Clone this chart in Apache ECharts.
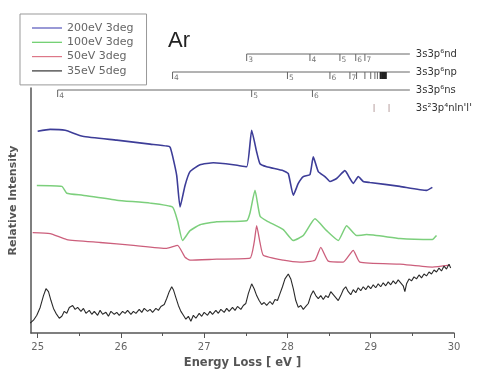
<!DOCTYPE html>
<html><head><meta charset="utf-8">
<script src="https://cdn.jsdelivr.net/npm/echarts@6/dist/echarts.min.js"></script>
<style>html,body{margin:0;padding:0;background:#fff}#c{width:483px;height:374px}</style>
</head><body><div id="c"></div>
<script>
// ---- axis ticks ----
const xTickLabels = [25, 26, 27, 28, 29, 30];
const xMinorTicks = [25.5, 26.5, 27.5, 28.5, 29.5];
const seriesNames = ['200eV 3deg', '100eV 3deg', '50eV 3deg', '35eV 5deg'];

// ---- spectra [energy eV, relative intensity] ----
const spec200 = [[25.00,205],[25.15,207],[25.33,206],[25.54,200],[25.95,196],[26.35,192],[26.55,190],[26.59,189],[26.62,180],[26.67,160],[26.71,128],[26.77,150],[26.83,164],[26.95,171],[27.11,173],[27.35,171],[27.51,169],[27.57,206],[27.63,184],[27.67,172],[27.75,169],[27.95,165],[28.01,162],[28.07,140],[28.13,152],[28.19,159],[28.27,161],[28.31,179],[28.37,164],[28.45,159],[28.51,154],[28.59,157],[28.69,165],[28.75,157],[28.79,152],[28.85,159],[28.91,154],[28.99,153],[29.35,149],[29.67,145],[29.74,148]];
const spec100 = [[24.99,150],[25.29,149],[25.35,142],[25.54,140],[25.95,135],[26.35,132],[26.62,128],[26.68,114],[26.74,94],[26.83,104],[26.95,110],[27.15,113],[27.51,114],[27.55,122],[27.61,145],[27.67,119],[27.75,114],[27.95,105],[28.07,94],[28.19,99],[28.33,116],[28.47,104],[28.61,94],[28.71,109],[28.83,99],[28.95,100],[29.35,96],[29.74,95],[29.79,99]];
const spec50 = [[24.94,102],[25.15,101],[25.35,95],[25.75,92],[26.15,89],[26.55,86],[26.68,89],[26.77,77],[26.83,74],[27.15,75],[27.55,76],[27.60,92],[27.63,109],[27.67,92],[27.71,79],[27.95,74],[28.15,72],[28.33,74],[28.40,87],[28.49,73],[28.67,72],[28.79,84],[28.87,72],[29.35,70],[29.74,67],[29.95,69]];
const spec35 = [[24.91,10],[24.95,13],[24.99,18],[25.03,26],[25.07,38],[25.10,45],[25.13,42],[25.16,33],[25.19,25],[25.22,20],[25.26,15],[25.29,17],[25.32,22],[25.35,20],[25.38,26],[25.42,28],[25.45,24],[25.48,26],[25.52,22],[25.55,25],[25.58,20],[25.62,23],[25.65,19],[25.68,22],[25.72,18],[25.75,23],[25.78,19],[25.82,21],[25.85,17],[25.88,22],[25.92,19],[25.95,21],[25.98,18],[26.02,22],[26.05,20],[26.08,23],[26.12,19],[26.15,22],[26.18,20],[26.22,24],[26.25,21],[26.28,25],[26.32,22],[26.35,24],[26.38,21],[26.42,25],[26.45,23],[26.48,27],[26.52,29],[26.55,35],[26.58,42],[26.61,47],[26.63,44],[26.66,36],[26.69,28],[26.72,22],[26.75,18],[26.78,14],[26.81,17],[26.84,12],[26.87,18],[26.90,15],[26.94,20],[26.97,17],[27.00,21],[27.04,18],[27.07,22],[27.10,19],[27.14,23],[27.17,20],[27.20,24],[27.24,21],[27.27,25],[27.30,22],[27.34,26],[27.37,23],[27.40,27],[27.44,24],[27.47,28],[27.50,30],[27.53,40],[27.57,50],[27.60,45],[27.63,38],[27.66,33],[27.69,29],[27.72,31],[27.75,28],[27.79,32],[27.82,29],[27.85,34],[27.88,33],[27.91,40],[27.94,47],[27.97,55],[28.01,60],[28.04,55],[28.07,45],[28.10,33],[28.13,26],[28.16,28],[28.19,24],[28.22,27],[28.25,30],[28.28,38],[28.31,43],[28.34,38],[28.37,35],[28.40,38],[28.43,34],[28.46,38],[28.49,36],[28.52,42],[28.55,39],[28.58,36],[28.61,33],[28.64,38],[28.67,44],[28.70,47],[28.73,42],[28.76,39],[28.79,44],[28.82,41],[28.85,46],[28.88,43],[28.91,47],[28.94,44],[28.97,48],[29.00,45],[29.03,49],[29.06,46],[29.09,50],[29.12,47],[29.15,51],[29.18,48],[29.21,52],[29.24,49],[29.27,53],[29.30,50],[29.33,54],[29.36,51],[29.39,48],[29.41,42],[29.43,50],[29.46,55],[29.49,53],[29.52,57],[29.55,55],[29.58,59],[29.61,56],[29.64,60],[29.67,58],[29.70,62],[29.73,60],[29.76,64],[29.79,62],[29.82,66],[29.85,63],[29.88,68],[29.91,65],[29.94,70],[29.96,66]];

// ---- energy level diagrams (eV) ----
const rowLabels = ['3s3p\u2076nd', '3s3p\u2076np', '3s3p\u2076ns', "3s\u00b23p\u2074nln'l'"];
const ndLevels = [27.51, 28.27, 28.63, 28.82, 28.93];
const ndSubs = ['3', '4', '5', '6', '7'];
const npLevels = [26.62, 28.00, 28.51, 28.75, 28.83, 28.93, 29.00, 29.05, 29.08, 29.12, 29.14, 29.16, 29.18];
const npSubs = ['4', '5', '6', '7', '', '', '', '', '', '', '', '', ''];
const nsLevels = [25.24, 27.57, 28.30];
const nsSubs = ['4', '5', '6'];
const nlnlLevels = [29.04, 29.22];
const seriesEnd = 29.47;

const levelTicks = [];
ndLevels.forEach((e, i) => levelTicks.push({ e, row: 0, sub: ndSubs[i] }));
npLevels.forEach((e, i) => levelTicks.push({ e, row: 1, sub: npSubs[i], dense: e > 29.1 }));
nsLevels.forEach((e, i) => levelTicks.push({ e, row: 2, sub: nsSubs[i] }));
nlnlLevels.forEach(e => levelTicks.push({ e, row: 3, sub: '' }));
const levelLines = [[ndLevels[0], seriesEnd, 0], [npLevels[0], seriesEnd, 1], [nsLevels[0], seriesEnd, 2]];
const labelRows = rowLabels.map((t, i) => [seriesEnd, i]);

const chart = echarts.init(document.getElementById('c'));
const FF = 'DejaVu Sans';
chart.setOption({
  animation: false,
  title: { text: 'Ar', left: 168, top: 30, padding: 0,
    textStyle: { fontSize: 22, fontWeight: 'normal', fontFamily: 'Liberation Sans', color: '#222' } },
  legend: {
    left: 20, top: 14, orient: 'vertical', data: seriesNames, icon: 'rect',
    itemWidth: 30, itemHeight: 1.2, itemGap: 2.3, padding: [8, 13, 8, 12],
    borderColor: '#999', borderWidth: 1,
    textStyle: { fontSize: 11, fontFamily: FF, color: '#666', lineHeight: 12, padding: [0, 0, 0, 0] }
  },
  grid: [
    { left: 31, right: 29, top: 88, bottom: 37 },
    { left: 31, right: 29, top: 45, height: 72 }
  ],
  xAxis: [
    { type: 'value', gridIndex: 0, min: 24.92, max: 30,
      name: 'Energy Loss [ eV ]', nameLocation: 'middle', nameGap: 24,
      nameTextStyle: { fontSize: 11.5, fontWeight: 'bold', fontFamily: FF, color: '#555' },
      axisLine: { lineStyle: { color: '#555', width: 1.5 } },
      axisTick: { customValues: xTickLabels, length: 5, lineStyle: { color: '#555' } },
      axisLabel: { customValues: xTickLabels, margin: 9, fontSize: 10, fontFamily: FF, color: '#666' },
      splitLine: { show: false } },
    { type: 'value', gridIndex: 0, min: 24.92, max: 30, position: 'bottom',
      axisLine: { show: false },
      axisTick: { customValues: xMinorTicks, length: 3, lineStyle: { color: '#555' } },
      axisLabel: { show: false }, splitLine: { show: false } },
    { type: 'value', gridIndex: 1, min: 24.92, max: 30, show: false }
  ],
  yAxis: [
    { type: 'value', gridIndex: 0, min: 0, max: 249,
      name: 'Relative Intensity', nameLocation: 'middle', nameGap: 12,
      nameTextStyle: { fontSize: 11, fontWeight: 'bold', fontFamily: FF, color: '#555', padding: [0, 0, 0, 20] },
      axisLine: { show: true, lineStyle: { color: '#555', width: 1.5 } },
      axisTick: { show: false }, axisLabel: { show: false }, splitLine: { show: false } },
    { type: 'value', gridIndex: 1, min: -0.5, max: 3.5, inverse: true, show: false }
  ],
  series: [
    { name: seriesNames[0], type: 'line', data: spec200, showSymbol: false, smooth: 0.15,
      lineStyle: { color: '#3d3d98', width: 1.6 }, itemStyle: { color: '#5555bb' } },
    { name: seriesNames[1], type: 'line', data: spec100, showSymbol: false, smooth: 0.15,
      lineStyle: { color: '#7ccf7c', width: 1.5 }, itemStyle: { color: '#66cc66' } },
    { name: seriesNames[2], type: 'line', data: spec50, showSymbol: false, smooth: 0.15,
      lineStyle: { color: '#cc5f7c', width: 1.3 }, itemStyle: { color: '#dd7788' } },
    { name: seriesNames[3], type: 'line', data: spec35, showSymbol: false,
      lineStyle: { color: '#2a2a2a', width: 1.1 }, itemStyle: { color: '#333' } },
    { type: 'custom', xAxisIndex: 2, yAxisIndex: 1, clip: false, silent: true, data: levelLines,
      renderItem: (params, api) => {
        const a = api.coord([api.value(0), api.value(2)]);
        const b = api.coord([api.value(1), api.value(2)]);
        return { type: 'line', shape: { x1: a[0], y1: a[1], x2: b[0], y2: b[1] },
          style: { stroke: '#666', lineWidth: 1 } };
      } },
    { type: 'custom', xAxisIndex: 2, yAxisIndex: 1, clip: false, silent: true,
      data: levelTicks.map(t => [t.e, t.row]),
      renderItem: (params, api) => {
        const p = api.coord([api.value(0), api.value(1)]);
        const t = levelTicks[params.dataIndex];
        if (t.row === 3) {
          return { type: 'line', shape: { x1: p[0], y1: p[1] - 4, x2: p[0], y2: p[1] + 4 },
            style: { stroke: '#b9a0a0', lineWidth: 1 } };
        }
        return { type: 'group', children: [
          { type: 'line', shape: { x1: p[0], y1: p[1], x2: p[0], y2: p[1] + 7 },
            style: { stroke: t.dense ? '#222' : '#666', lineWidth: t.dense ? 2.2 : 1 } },
          { type: 'text', x: p[0] + 1.5, y: p[1] + 10,
            style: { text: t.sub, fontSize: 7.5, fill: '#777', fontFamily: FF, verticalAlign: 'bottom' } }
        ] };
      } },
    { type: 'custom', xAxisIndex: 2, yAxisIndex: 1, clip: false, silent: true, data: labelRows,
      renderItem: (params, api) => {
        const p = api.coord([api.value(0), api.value(1)]);
        return { type: 'text', x: p[0] + 6, y: p[1],
          style: { text: rowLabels[params.dataIndex], fontSize: 10, fontWeight: 'normal', fill: '#333',
            fontFamily: FF, verticalAlign: 'middle' } };
      } }
  ]
});
</script>
</body></html>
